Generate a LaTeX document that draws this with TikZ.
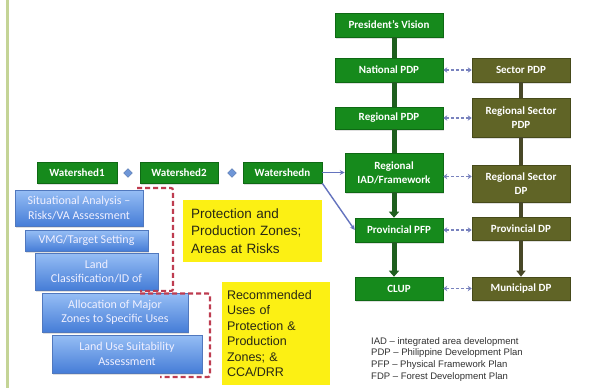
\documentclass[tikz,border=0pt]{standalone}
\usepackage{fontspec}
\setmainfont{Carlito}
\newfontfamily\arialf{Liberation Sans}
\usetikzlibrary{arrows.meta,shadows,shapes.geometric,calc}

\definecolor{gfill}{RGB}{22,138,28}
\definecolor{gedge}{RGB}{14,105,20}
\definecolor{ofill}{RGB}{96,100,38}
\definecolor{oedge}{RGB}{70,74,26}
\definecolor{gline}{RGB}{30,95,30}
\definecolor{oline}{RGB}{72,72,40}
\definecolor{btop}{RGB}{150,190,245}
\definecolor{bbot}{RGB}{70,125,215}
\definecolor{bedge}{RGB}{80,120,190}
\definecolor{yfill}{RGB}{252,240,20}
\definecolor{ytext}{RGB}{40,40,20}
\definecolor{link}{RGB}{120,130,190}
\definecolor{wlink}{RGB}{100,115,190}
\definecolor{dred}{RGB}{190,60,80}
\definecolor{rulec}{RGB}{196,212,150}
\definecolor{plusc}{RGB}{110,150,215}
\definecolor{legendc}{RGB}{50,50,50}

\tikzset{
  sz/.style 2 args={minimum width=#1pt, minimum height=#2pt},
  box/.style={rectangle, inner sep=2pt, align=center,
    font=\bfseries\fontsize{11}{14}\selectfont, text=white,
    drop shadow={opacity=0.25, shadow xshift=1pt, shadow yshift=-1.5pt}},
  gbox/.style={box, fill=gfill, draw=gedge, line width=0.6pt},
  obox/.style={box, fill=ofill, draw=oedge, line width=0.6pt},
  bbox/.style={box, top color=btop, bottom color=bbot, draw=bedge,
    line width=0.5pt, font=\fontsize{12}{14.5}\selectfont, text=white!94!blue},
  ybox/.style={rectangle, fill=yfill, align=left, text=ytext, anchor=center},
  gflow/.style={draw=gline, line width=5pt},
  gflowtip/.style={gflow, -{Triangle[width=10pt,length=6pt]}},
  oflow/.style={draw=oline, line width=4.5pt},
  oflowtip/.style={oflow, -{Triangle[width=9pt,length=6pt]}},
  link2/.style={draw=link, line width=1.3pt, dash pattern=on 3pt off 2pt,
    {Stealth[length=4pt,width=5.5pt]}-{Stealth[length=4pt,width=5.5pt]}},
  wlinkarrow/.style={draw=wlink, line width=1.4pt, -{Stealth[length=5pt,width=5pt]}},
  plus/.style={diamond, fill=plusc, draw=plusc!80!black, line width=0.3pt,
    minimum size=9pt, inner sep=0pt},
  bracket/.style={draw=dred, line width=2.2pt, dash pattern=on 5pt off 3pt,
    rounded corners=2pt}
}

\begin{document}
\begin{tikzpicture}[x=1pt, y=-1pt]
\useasboundingbox[fill=white] (0,0) rectangle (589,388);

% left rule
\draw[rulec, line width=2.5pt] (7.5,0) -- (7.5,388);

% plan hierarchy (green column)
\node[gbox, sz={108}{24}] (pv)   at (389,25)    {President's Vision};
\node[gbox, sz={108}{24}] (npdp) at (389,70)    {National PDP};
\node[gbox, sz={108}{22}] (rpdp) at (389,118)   {Regional PDP};
\node[gbox, sz={98}{39}]  (riad) at (394,172.5) {Regional\\IAD/Framework};
\node[gbox, sz={88}{24}]  (ppfp) at (399,230)   {Provincial PFP};
\node[gbox, sz={88}{23}]  (clup) at (399,288.5) {CLUP};

% sector plans (olive column)
\node[obox, sz={98}{24}] (spdp)  at (521,70)    {Sector PDP};
\node[obox, sz={98}{39}] (rspdp) at (521,117.5) {Regional Sector\\PDP};
\node[obox, sz={98}{37}] (rsdp)  at (521,183.5) {Regional Sector\\DP};
\node[obox, sz={98}{23}] (pdp)   at (521,228.5) {Provincial DP};
\node[obox, sz={98}{23}] (mdp)   at (521,288.5) {Municipal DP};

% watersheds
\node[gbox, sz={80}{21}] (w1) at (77,172.5)    {Watershed1};
\node[gbox, sz={78}{21}] (w2) at (179,172.5)   {Watershed2};
\node[gbox, sz={79}{21}] (wn) at (282.5,172.5) {Watershedn};
\node[plus] (p1) at (128,173) {};
\node[plus] (p2) at (232,173) {};

% analysis steps
\node[bbox, sz={128}{36}] (b1) at (79,208)     {Situational Analysis –\\Risks/VA Assessment};
\node[bbox, sz={123}{21}] (b2) at (86.5,240.5) {VMG/Target Setting};
\node[bbox, sz={123}{37}] (b3) at (96.5,271.5) {Land\\Classification/ID of};
\node[bbox, sz={146}{39}] (b4) at (115,312.5)  {Allocation of Major\\Zones to Specific Uses};
\node[bbox, sz={150}{38}] (b5) at (127,354)    {Land Use Suitability\\Assessment};

% outputs
\node[ybox, sz={139}{62}, inner xsep=8pt, text width=123pt,
      font=\arialf\fontsize{13.5}{17.5}\selectfont] (y1) at (252.5,231)
  {Protection and\\Production Zones;\\Areas at Risks};
\node[ybox, sz={108}{103}, inner xsep=5pt, text width=98pt,
      font=\arialf\fontsize{12.5}{15.5}\selectfont] (y2) at (276,333.5)
  {Recommended\\Uses of\\Protection \&\\Production\\Zones; \&\\CCA/DRR};

% vertical flows, green column
\draw[gflow]    (pv.south -| riad.center)   -- (npdp.north -| riad.center);
\draw[gflow]    (npdp.south -| riad.center) -- (rpdp.north -| riad.center);
\draw[gflow]    (rpdp.south -| riad.center) -- (riad.north);
\draw[gflowtip] (riad.south) -- (riad.south |- ppfp.north);
\draw[gflowtip] (riad.south |- ppfp.south) -- (riad.south |- clup.north);

% vertical flows, olive column
\draw[oflow]    (rspdp.north) -- (spdp.south);
\draw[oflow]    (rspdp.south) -- (rsdp.north);
\draw[oflow]    (rsdp.south) -- (pdp.north);
\draw[oflowtip] (pdp.south) -- (mdp.north);

% links between the columns
\draw[link2] (npdp.east) -- (spdp.west);
\draw[link2] (rpdp.east) -- (rpdp.east -| rspdp.west);
\draw[link2] ($(riad.east)+(0,4)$) -- ($(riad.east -| rsdp.west)+(0,4)$);
\draw[link2] (ppfp.east) -- (ppfp.east -| pdp.west);
\draw[link2] (clup.east) -- (mdp.west);

% watershed links
\draw[wlinkarrow] (wn.east) -- (riad.west);
\draw[wlinkarrow] (wn.south east) -- (ppfp.west);

% dashed brackets
\coordinate (k1a) at (137,188);
\coordinate (k1b) at (173,188);
\coordinate (k1c) at (173,291);
\coordinate (k1d) at (140,291);
\draw[bracket] (k1a) -- (k1b) -- (k1c) -- (k1d);
\coordinate (k2a) at (140,293.5);
\coordinate (k2b) at (210,293.5);
\coordinate (k2c) at (210,377);
\coordinate (k2d) at (160,377);
\draw[bracket] (k2a) -- (k2b) -- (k2c) -- (k2d);

% legend
\node[anchor=north west, align=left, inner sep=0pt, text=legendc,
      font=\arialf\fontsize{9.5}{11.7}\selectfont] (legend) at (371,337)
  {IAD – integrated area development\\
   PDP – Philippine Development Plan\\
   PFP – Physical Framework Plan\\
   FDP – Forest Development Plan};
\end{tikzpicture}
\end{document}
